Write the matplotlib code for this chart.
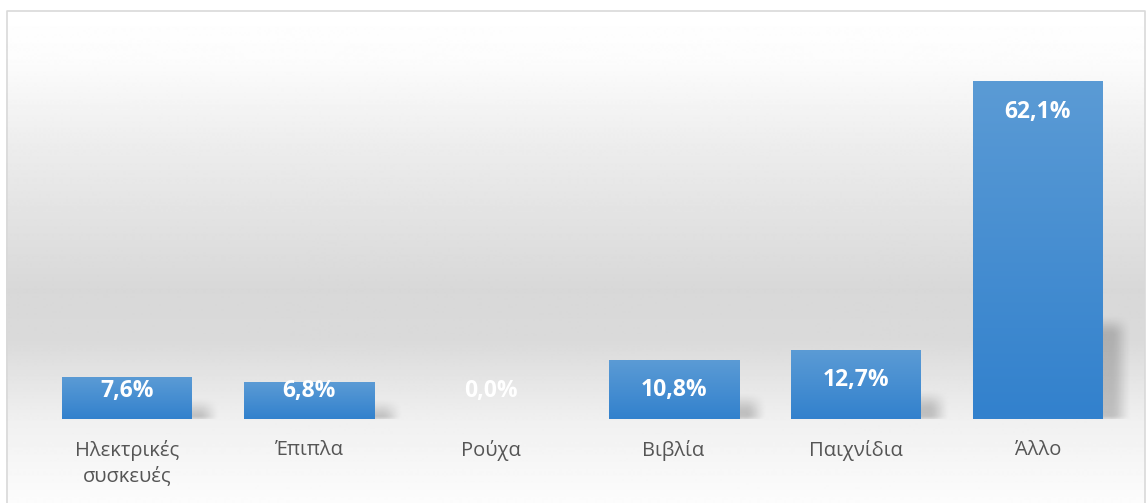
import numpy as np
import matplotlib.pyplot as plt
from matplotlib.colors import LinearSegmentedColormap

categories = ['Ηλεκτρικές\nσυσκευές', 'Έπιπλα', 'Ρούχα', 'Βιβλία', 'Παιχνίδια', 'Άλλο']
values = [7.6, 6.8, 0.0, 10.8, 12.7, 62.1]
labels = ['7,6%', '6,8%', '0,0%', '10,8%', '12,7%', '62,1%']

W, H = 1146, 503
FONT = 'Open Sans'

fig = plt.figure(figsize=(W / 100, H / 100), dpi=100)

# background panel (pixel coords)
bg = fig.add_axes([0, 0, 1, 1], zorder=0)
bg.axis('off')
stops_y = np.array([10, 60, 150, 290, 340, 420, 503])
stops_v = np.array([255, 252, 236, 216, 218, 240, 252]) / 255
yy = np.arange(10, H + 1)
grad = np.interp(yy, stops_y, stops_v)[:, None]
bg.imshow(np.repeat(grad, 2, axis=1), cmap='gray', vmin=0, vmax=1,
          extent=(6, W - 1, H, 10), aspect='auto', interpolation='bilinear')
bg.plot([6.5, 6.5, W - 1.5, W - 1.5], [H, 10.5, 10.5, H], color='#d9d9d9', lw=1.2)
bg.set_xlim(0, W)
bg.set_ylim(H, 0)

# main axes
left, right, base, top = 36, 1129, 419, 39
ax = fig.add_axes([left / W, (H - base) / H, (right - left) / W, (base - top) / H], zorder=1)
ax.patch.set_alpha(0)
x = np.arange(len(values))
ymax = 70
px_x = (right - left) / len(values)
px_y = (base - top) / ymax

bar_w = 130 / px_x
bars = ax.bar(x, values, width=bar_w, color='none', zorder=3)


def ramp(d):
    t = np.clip(0.5 + d / 2, 0, 1)
    return t * t * (3 - 2 * t)


bar_cmap = LinearSegmentedColormap.from_list('bar', ['#3281cd', '#5b9bd5'])
vgrad = np.linspace(0, 1, 256)[:, None]
for b in bars:
    x0, w, h = b.get_x(), b.get_width(), b.get_height()
    if h <= 0:
        continue
    # soft shadow behind the lower part of the bar, shifted right
    sx0 = x0 + 8 / px_x
    sx1 = x0 + w + 18 / px_x
    sh = 0.28 * h
    blur = 11
    ex0, ex1 = sx0 - blur / px_x, sx1 + blur / px_x
    ey0, ey1 = 0.2 / px_y, sh + blur / px_y
    nx, ny = 300, 200
    gx = np.linspace(ex0, ex1, nx)
    gy = np.linspace(ey1, ey0, ny)
    a_x = np.minimum(ramp((gx - sx0) * px_x / blur), ramp((sx1 - gx) * px_x / blur))
    a_y = np.minimum(ramp((gy - ey0) * px_y / 4), ramp((sh - gy) * px_y / blur))
    rgba = np.zeros((ny, nx, 4))
    rgba[..., 3] = np.outer(a_y, a_x) * 0.2
    ax.imshow(rgba, extent=(ex0, ex1, ey0, ey1), aspect='auto', zorder=2,
              interpolation='bilinear')
    ax.imshow(vgrad, cmap=bar_cmap, extent=(x0, x0 + w, 0, h), aspect='auto',
              zorder=3, origin='lower', interpolation='bilinear')

for xi, v, lab in zip(x, values, labels):
    ly = max(v - 30 / px_y, 28 / px_y)
    ax.text(xi, ly, lab, ha='center', va='center', color='white', fontsize=16.5,
            fontweight='bold', family=FONT, zorder=5)

ax.set_xlim(-0.5, len(values) - 0.5)
ax.set_ylim(0, ymax)
ax.set_xticks(x)
ax.set_xticklabels(categories, family=FONT, fontsize=14.5, color='#555555', linespacing=1.35)
ax.tick_params(axis='x', length=0, pad=15)
ax.set_yticks([])
for s in ax.spines.values():
    s.set_visible(False)

fig.savefig('out.png', dpi=100)
